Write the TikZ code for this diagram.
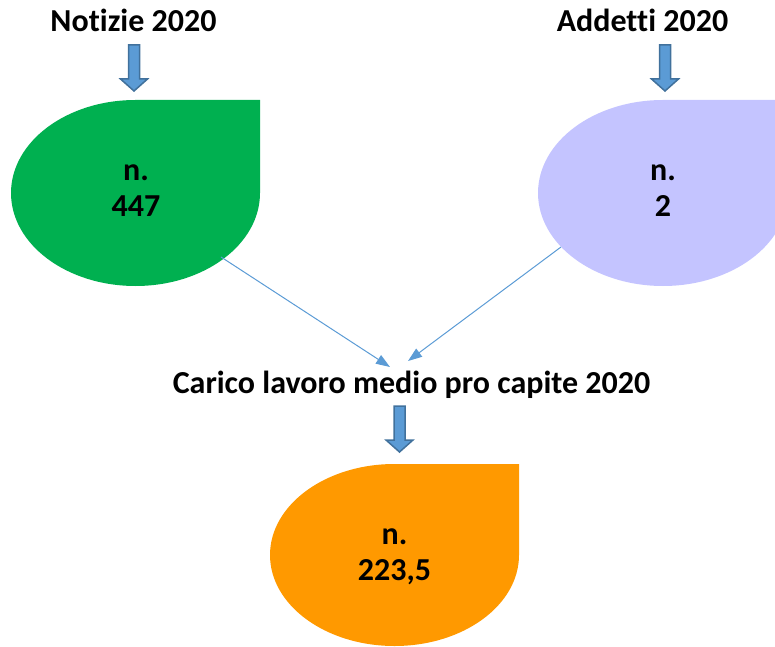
\documentclass[tikz,border=0pt]{standalone}
\usepackage{fontspec}
\setmainfont{Carlito}[Ligatures=NoCommon]
\usetikzlibrary{arrows.meta}
\definecolor{dropgreen}{HTML}{00B050}
\definecolor{droplav}{HTML}{C4C4FF}
\definecolor{droporange}{HTML}{FF9900}
\definecolor{arrowfill}{HTML}{5B9BD5}
\definecolor{arrowedge}{HTML}{41719C}
\tikzset{
  bigtext/.style={font=\bfseries\fontsize{32}{36}\selectfont, inner sep=0pt},
  title/.style={bigtext, anchor=base},
  droptext/.style={bigtext, align=center, anchor=center},
  link/.style={draw=arrowfill, line width=1pt, -{Triangle[width=10pt,length=14pt]}},
  blockarrow/.pic={
    \draw[fill=arrowfill, draw=arrowedge, line width=1.5pt, line join=miter]
      (-5.5,0) -- (5.5,0) -- (5.5,-34) -- (13.5,-34) -- (0,-46)
      -- (-13.5,-34) -- (-5.5,-34) -- cycle;
  }
}
\newcommand{\teardrop}[5]{% color, cx, cy, rx, ry
  \fill[#1] (#2,#3+#5) -- (#2+#4,#3+#5) -- (#2+#4,#3)
    arc[start angle=0, end angle=-270, x radius=#4, y radius=#5] -- cycle;
}
\begin{document}
\begin{tikzpicture}[x=1pt,y=1pt]
\clip (0,0) rectangle (775,646);
% teardrops
\teardrop{dropgreen}{135.5}{453}{124.5}{93}
\teardrop{droplav}{663}{453}{125}{93}
\teardrop{droporange}{394.5}{91}{124.5}{91}
% texts
\node[title] (notizie) at (133.5,614) {Notizie 2020};
\node[title] (addetti) at (642.5,614) {Addetti 2020};
\node[title] (carico) at (411.5,253) {Carico lavoro medio pro capite 2020};
\node[droptext] (vnotizie) at (136,455) {n.\\447};
\node[droptext] (vaddetti) at (663,455) {n.\\2};
\node[droptext] (vcarico) at (394.5,89) {n.\\223,5};
% block arrows
\pic at (134,601) {blockarrow};
\pic at (665,601) {blockarrow};
\pic at (399.5,240) {blockarrow};
% connectors
\coordinate (lstart) at (221,389);
\coordinate (lend) at (390,279);
\coordinate (rstart) at (561,399);
\coordinate (rend) at (408,285);
\draw[link] (lstart) -- (lend);
\draw[link] (rstart) -- (rend);
\end{tikzpicture}
\end{document}
